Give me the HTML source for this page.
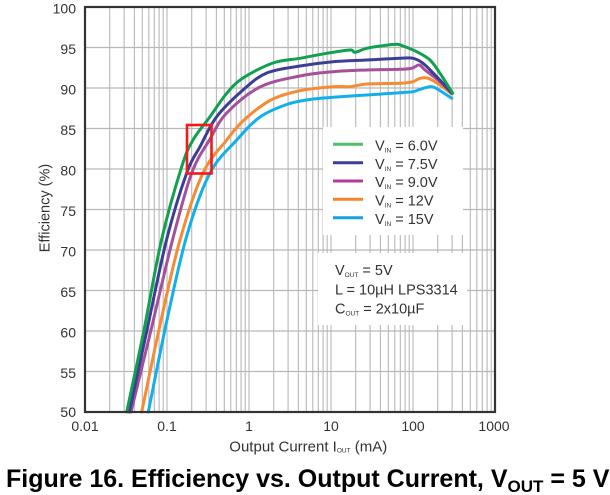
<!DOCTYPE html>
<html><head><meta charset="utf-8"><style>
html,body{margin:0;padding:0;background:#fff;}
svg{display:block;font-family:"Liberation Sans",Arial,sans-serif;}
</style></head><body>
<svg id="ch" width="610" height="495" viewBox="0 0 610 495" xmlns="http://www.w3.org/2000/svg">
<rect width="610" height="495" fill="#fff"/>
<g stroke="#b8b8b8" stroke-width="1.1">
<path d="M109.7 7V412M124.1 7V412M134.4 7V412M142.3 7V412M148.8 7V412M154.3 7V412M159.1 7V412M163.2 7V412M167 7V412
M191.7 7V412M206.1 7V412M216.4 7V412M224.3 7V412M230.8 7V412M236.3 7V412M241.1 7V412M245.2 7V412M249 7V412
M273.7 7V412M288.1 7V412M298.4 7V412M306.3 7V412M312.8 7V412M318.3 7V412M323.1 7V412M327.2 7V412M331 7V412
M355.7 7V412M370.1 7V412M380.4 7V412M388.3 7V412M394.8 7V412M400.3 7V412M405.1 7V412M409.2 7V412M413 7V412
M437.7 7V412M452.1 7V412M462.4 7V412M470.3 7V412M476.8 7V412M482.3 7V412M487.1 7V412M491.2 7V412"/>
</g>
<g stroke="#b8b8b8" stroke-width="1.3">
<path d="M85 47.5H495M85 88H495M85 128.5H495M85 169H495M85 209.5H495M85 250H495M85 290.5H495M85 331H495M85 371.5H495"/>
</g>
<rect x="323" y="127" width="140" height="108" fill="#fff"/>
<rect x="318" y="253" width="149" height="72" fill="#fff"/>
<g id="curves" fill="none" stroke-width="3" stroke-linejoin="round" stroke-linecap="round">
<polyline class="c" stroke="#12b0ea" points="148.3,412 167,320 187,235 210,173 236.7,140 260,117 286.7,104.5 310,99.5 333,97.3 366.7,95 400,92.7 413,91.7 420,89.3 431.7,86.7 440,90.7 451.7,98.3"/>
<polyline class="c" stroke="#f68b33" points="141.7,412 160,325 180,240 203,173 226.7,140 243,121 270,100.5 300,90.7 333,86.7 350,86.7 366.7,84 400,83.3 413,81.7 420,78.3 428.3,78.3 440,85 451.7,94"/>
<polyline class="c" stroke="#a5509a" points="131,412 151,330 172.5,240 191.7,173 210,139 226.7,113 260,87 300,76 333,71.7 366.7,70 400,69.3 411.7,68.3 419.3,65 425,70 440,81.7 451.7,93.3"/>
<polyline class="c" stroke="#3c3e96" points="129.3,412 147,330 166.5,240 186.7,173 200,146.7 216.7,116.7 243,90 266.7,73 300,66 333,61.7 366.7,60 400,58.3 413,58.3 423,63.3 436.7,76.7 451.7,92.7"/>
<polyline class="c" stroke="#10a050" points="126.7,412 144,330 161.5,240 181.7,166.7 193,140 210,116.7 226.7,93.3 243,78 273,63 300,58.3 326.7,53.3 350,50 355,52.3 366.7,48.3 383,45.7 396.7,44.3 403,46 416.7,51.7 430,60 440,73.3 452.7,93.3"/>
</g>
<rect x="187" y="125" width="24.5" height="48.5" fill="none" stroke="#f21b1b" stroke-width="2.6"/>
<rect x="85" y="7" width="410" height="405" fill="none" stroke="#333" stroke-width="2.2"/>
<g stroke-width="3">
<line x1="333" y1="144.3" x2="363" y2="144.3" stroke="#4fbf68"/>
<line x1="333" y1="162.7" x2="363" y2="162.7" stroke="#3c3e96"/>
<line x1="333" y1="181" x2="363" y2="181" stroke="#b23a9c"/>
<line x1="333" y1="199.3" x2="363" y2="199.3" stroke="#f4832e"/>
<line x1="333" y1="217.7" x2="363" y2="217.7" stroke="#16a2e2"/>
</g>
<g fill="#333" font-size="14.5">
<text x="375" y="150.5">V<tspan font-size="6.5" dy="2">IN</tspan><tspan dy="-2"> = 6.0V</tspan></text>
<text x="375" y="168.9">V<tspan font-size="6.5" dy="2">IN</tspan><tspan dy="-2"> = 7.5V</tspan></text>
<text x="375" y="187.2">V<tspan font-size="6.5" dy="2">IN</tspan><tspan dy="-2"> = 9.0V</tspan></text>
<text x="375" y="205.5">V<tspan font-size="6.5" dy="2">IN</tspan><tspan dy="-2"> = 12V</tspan></text>
<text x="375" y="223.9">V<tspan font-size="6.5" dy="2">IN</tspan><tspan dy="-2"> = 15V</tspan></text>
<text x="335" y="275">V<tspan font-size="6.5" dy="2">OUT</tspan><tspan dy="-2"> = 5V</tspan></text>
<text x="335" y="294.5">L = 10µH LPS3314</text>
<text x="335" y="313.5">C<tspan font-size="6.5" dy="2">OUT</tspan><tspan dy="-2"> = 2x10µF</tspan></text>
</g>
<g fill="#333" font-size="14" text-anchor="end">
<text x="76" y="13.5">100</text>
<text x="76" y="54">95</text>
<text x="76" y="94.5">90</text>
<text x="76" y="135">85</text>
<text x="76" y="175.5">80</text>
<text x="76" y="216">75</text>
<text x="76" y="256.5">70</text>
<text x="76" y="297">65</text>
<text x="76" y="337.5">60</text>
<text x="76" y="378">55</text>
<text x="76" y="417">50</text>
</g>
<g fill="#333" font-size="14" text-anchor="middle">
<text x="85" y="431">0.01</text>
<text x="167" y="431">0.1</text>
<text x="249" y="431">1</text>
<text x="331" y="431">10</text>
<text x="413" y="431">100</text>
<text x="494" y="431">1000</text>
</g>
<text x="229.3" y="451.7" fill="#333" font-size="15">Output Current I<tspan font-size="6.5" dy="1">OUT</tspan><tspan dy="-1"> (mA)</tspan></text>
<text transform="translate(49.5,208) rotate(-90)" fill="#333" font-size="14.5" text-anchor="middle">Efficiency (%)</text>
<text x="6" y="487" fill="#000" font-size="25" font-weight="bold">Figure 16. Efficiency vs. Output Current, V<tspan font-size="17" dy="5">OUT</tspan><tspan dy="-5"> = 5 V</tspan></text>
</svg>
<script>
(function(){
  var NS="http://www.w3.org/2000/svg";
  var pls=document.querySelectorAll("polyline.c");
  for(var i=0;i<pls.length;i++){
    var pl=pls[i];
    var raw=pl.getAttribute("points").trim().split(/\s+/);
    var p=raw.map(function(s){var a=s.split(",");return [parseFloat(a[0]),parseFloat(a[1])];});
    var d="M"+p[0][0]+" "+p[0][1];
    for(var k=0;k<p.length-1;k++){
      var p0=p[k>0?k-1:k],p1=p[k],p2=p[k+1],p3=p[k+2<p.length?k+2:k+1];
      var t=6;
      var c1x=p1[0]+(p2[0]-p0[0])/t,c1y=p1[1]+(p2[1]-p0[1])/t;
      var c2x=p2[0]-(p3[0]-p1[0])/t,c2y=p2[1]-(p3[1]-p1[1])/t;
      d+=" C"+c1x.toFixed(2)+" "+c1y.toFixed(2)+" "+c2x.toFixed(2)+" "+c2y.toFixed(2)+" "+p2[0]+" "+p2[1];
    }
    var path=document.createElementNS(NS,"path");
    path.setAttribute("d",d);
    path.setAttribute("stroke",pl.getAttribute("stroke"));
    pl.parentNode.replaceChild(path,pl);
  }
})();
</script>
</body></html>
